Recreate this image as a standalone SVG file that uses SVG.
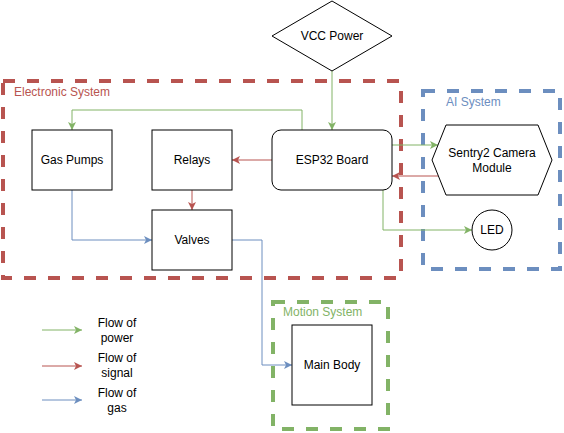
<svg xmlns="http://www.w3.org/2000/svg" width="564" height="433" viewBox="0 0 564 433">
<style>
text{font-family:"Liberation Sans",Arial,Helvetica,sans-serif;font-size:12px;text-anchor:middle;dominant-baseline:central;fill:#000}
.node{fill:#fff;stroke:#000;stroke-width:1}
.grp{fill:none;stroke-width:4;stroke-dasharray:12 12}
.lbl{text-anchor:start}
.c{fill:none;stroke-width:1}
.g{stroke:#82b366}.r{stroke:#b85450}.b{stroke:#6c8ebf}
</style>
<defs>
<marker id="ag" markerUnits="userSpaceOnUse" markerWidth="10" markerHeight="10" refX="8" refY="4" orient="auto"><path d="M0,0 L8,4 L0,8 L2,4 Z" fill="#82b366"/></marker>
<marker id="ar" markerUnits="userSpaceOnUse" markerWidth="10" markerHeight="10" refX="8" refY="4" orient="auto"><path d="M0,0 L8,4 L0,8 L2,4 Z" fill="#b85450"/></marker>
<marker id="ab" markerUnits="userSpaceOnUse" markerWidth="10" markerHeight="10" refX="8" refY="4" orient="auto"><path d="M0,0 L8,4 L0,8 L2,4 Z" fill="#6c8ebf"/></marker>
</defs>
<rect width="564" height="433" fill="#fff"/>
<g id="electronic-system">
<rect class="grp" x="3" y="81" width="398" height="197" stroke="#b85450"/>
<text class="lbl" x="14" y="92" fill="#b85450" style="fill:#b85450">Electronic System</text>
</g>
<g id="ai-system">
<rect class="grp" x="423" y="91" width="137" height="178" stroke="#6c8ebf"/>
<text class="lbl" x="446" y="102" style="fill:#6c8ebf">AI System</text>
</g>
<g id="motion-system">
<rect class="grp" x="273" y="302" width="115" height="127" stroke="#82b366"/>
<text class="lbl" x="283" y="312" style="fill:#82b366">Motion System</text>
</g>
<g id="connectors">
<path class="c g" d="M332,71 L332,130" marker-end="url(#ag)"/>
<path class="c g" d="M302,130 L302,110 L72,110 L72,130" marker-end="url(#ag)"/>
<path class="c r" d="M272,160 L232,160" marker-end="url(#ar)"/>
<path class="c r" d="M192,190 L192,210" marker-end="url(#ar)"/>
<path class="c g" d="M392,145 L438,145" marker-end="url(#ag)"/>
<path class="c r" d="M438,176 L392,176" marker-end="url(#ar)"/>
<path class="c g" d="M383,190 L383,230 L472,230" marker-end="url(#ag)"/>
<path class="c b" d="M72,190 L72,240 L152,240" marker-end="url(#ab)"/>
<path class="c b" d="M232,240 L262,240 L262,365 L292,365" marker-end="url(#ab)"/>
</g>
<g id="vcc-power">
<polygon class="node" points="332,1 392,36 332,71 272,36"/>
<text x="332" y="36">VCC Power</text>
</g>
<g id="gas-pumps">
<rect class="node" x="32" y="130" width="80" height="60"/>
<text x="72" y="160">Gas Pumps</text>
</g>
<g id="relays">
<rect class="node" x="152" y="130" width="80" height="60"/>
<text x="192" y="160">Relays</text>
</g>
<g id="valves">
<rect class="node" x="152" y="210" width="80" height="60"/>
<text x="192" y="240">Valves</text>
</g>
<g id="esp32-board">
<rect class="node" x="272" y="130" width="120" height="60" rx="9" ry="9"/>
<text x="332" y="160">ESP32 Board</text>
</g>
<g id="sentry2-camera">
<polygon class="node" points="432,160 446,125 538,125 552,160 538,195 446,195"/>
<text x="492" y="153">Sentry2 Camera</text>
<text x="492" y="168">Module</text>
</g>
<g id="led">
<circle class="node" cx="492" cy="230" r="20"/>
<text x="492" y="230">LED</text>
</g>
<g id="main-body">
<rect class="node" x="292" y="325" width="80" height="80"/>
<text x="332" y="365">Main Body</text>
</g>
<g id="legend">
<path class="c g" d="M42,330 L82,330" marker-end="url(#ag)"/>
<path class="c r" d="M42,366 L82,366" marker-end="url(#ar)"/>
<path class="c b" d="M42,400 L82,400" marker-end="url(#ab)"/>
<text x="117" y="323">Flow of</text>
<text x="117" y="338">power</text>
<text x="117" y="358">Flow of</text>
<text x="117" y="373">signal</text>
<text x="117" y="393">Flow of</text>
<text x="117" y="408">gas</text>
</g>
</svg>
